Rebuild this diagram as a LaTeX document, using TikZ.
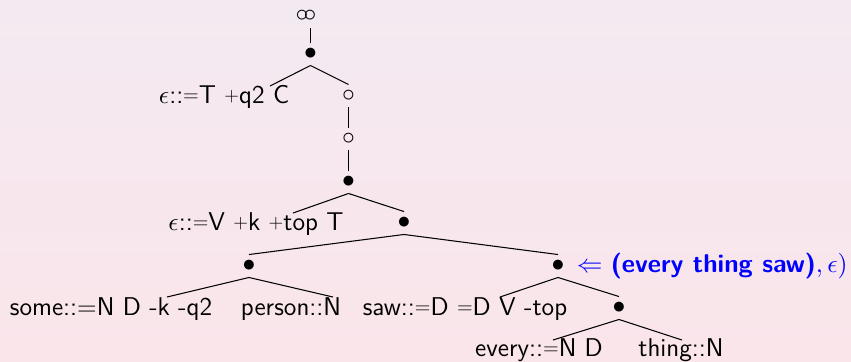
\documentclass[tikz,border=0pt]{standalone}
\usetikzlibrary{positioning}

\definecolor{bgtop}{RGB}{243,234,241}
\definecolor{bgbot}{RGB}{250,229,234}
\definecolor{derivblue}{RGB}{0,0,255}

\newcommand{\fplus}{\raisebox{0.7pt}{\scalebox{0.75}{+}}}
\newcommand{\feq}{\raisebox{0.5pt}{\scalebox{0.8}{=}}}

\tikzset{
  dot/.style={circle, inner sep=0pt, minimum size=3.31mm, font=\fontsize{11}{13}\selectfont},
  leaf/.style={anchor=base, inner sep=0pt, font=\sffamily\fontsize{11}{13}\selectfont},
  branch/.style={black, line width=0.45pt}
}

\begin{document}
\begin{tikzpicture}[x=0.1504mm, y=-0.1504mm]

  % background
  \shade[top color=bgtop, bottom color=bgbot] (0,0) rectangle (851,361);
  \useasboundingbox (0,0) rectangle (851,361);

  % internal points of the derivation
  \node[dot, minimum size=2.2mm] (inf) at (306,16) {$\circ\mkern-3.5mu\circ$};
  \node[dot] (root) at (310.5,54) {$\bullet$};
  \node[dot] (c1) at (348.5,96) {$\circ$};
  \node[dot] (c2) at (348.5,139) {$\circ$};
  \node[dot] (b2) at (348.5,182) {$\bullet$};
  \node[dot] (b3) at (404,223) {$\bullet$};
  \node[dot] (b4) at (249,266) {$\bullet$};
  \node[dot] (b5) at (558,266) {$\bullet$};
  \node[dot] (b6) at (619,308) {$\bullet$};

  % lexical items
  \node[leaf] (epsC) at (224,103) {$\epsilon$::\feq T \fplus q2 C};
  \node[leaf] (epsT) at (256,230) {$\epsilon$::\feq V \fplus k \fplus top T};
  \node[leaf] (some) at (111,315) {some::=N D -k -q2};
  \node[leaf] (person) at (291,315) {person::N};
  \node[leaf] (saw) at (465,315) {saw::\feq D \feq D V -top};
  \node[leaf] (every) at (539,356) {every::\feq N D};
  \node[leaf] (thing) at (681,356) {thing::N};

  % branches
  \draw[branch] (inf.south -| root) -- (root.north);
  \draw[branch] (root.south) -- ([shift={(46,-17)}]epsC.base);
  \draw[branch] (root.south) -- (c1.north);
  \draw[branch] (c1.south) -- (c2.north);
  \draw[branch] (c2.south) -- (b2.north);
  \draw[branch] (b2.south) -- ([shift={(37,-17)}]epsT.base);
  \draw[branch] (b2.south) -- (b3.north);
  \draw[branch] (b3.south) -- (b4.north);
  \draw[branch] (b3.south) -- (b5.north);
  \draw[branch] (b4.south) -- ([shift={(56,-18)}]some.base);
  \draw[branch] (b4.south) -- ([shift={(42,-18)}]person.base);
  \draw[branch] (b5.south) -- ([shift={(35,-18)}]saw.base);
  \draw[branch] (b5.south) -- (b6.north);
  \draw[branch] (b6.south) -- ([shift={(14,-16)}]every.base);
  \draw[branch] (b6.south) -- ([shift={(1,-16)}]thing.base);

  % yield of the marked node
  \node[right=0pt of b5, inner sep=3pt, text=derivblue, font=\sffamily\fontsize{11}{13}\selectfont] (yield)
    {$\Leftarrow$ \textbf{(every thing saw)}$,\epsilon)$};

\end{tikzpicture}
\end{document}
